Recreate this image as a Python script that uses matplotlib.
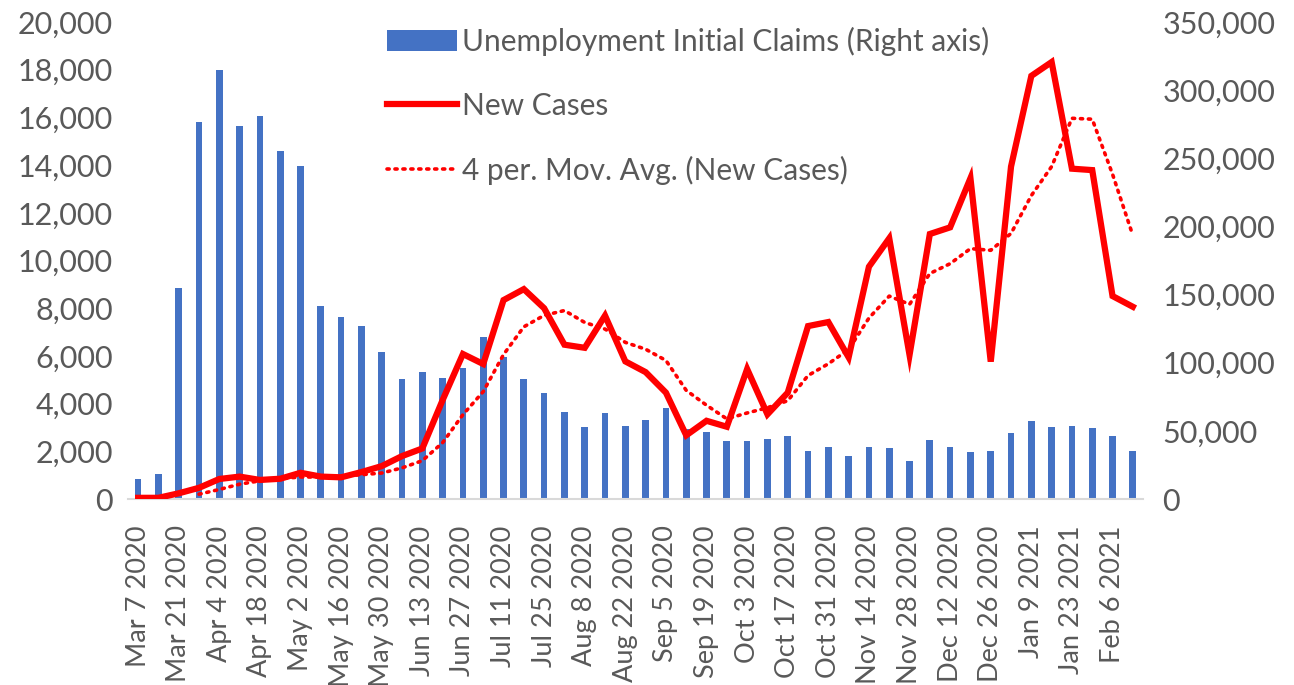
import numpy as np
import pandas as pd
import matplotlib
matplotlib.use("Agg")
import matplotlib.pyplot as plt
from matplotlib.ticker import FuncFormatter, MultipleLocator

plt.rcParams['font.family'] = ['Lato', 'DejaVu Sans']

# weekly data, Mar 7 2020 .. Feb 13 2021
tick_labels = ['Mar 7 2020', 'Mar 21 2020', 'Apr 4 2020', 'Apr 18 2020', 'May 2 2020',
               'May 16 2020', 'May 30 2020', 'Jun 13 2020', 'Jun 27 2020', 'Jul 11 2020',
               'Jul 25 2020', 'Aug 8 2020', 'Aug 22 2020', 'Sep 5 2020', 'Sep 19 2020',
               'Oct 3 2020', 'Oct 17 2020', 'Oct 31 2020', 'Nov 14 2020', 'Nov 28 2020',
               'Dec 12 2020', 'Dec 26 2020', 'Jan 9 2021', 'Jan 23 2021', 'Feb 6 2021']

claims = [14700, 18400, 154500, 276700, 314500, 273700, 281000, 255300, 244100, 141600,
          133900, 126900, 107800, 87900, 93100, 88700, 96100, 118800, 104100, 88000,
          77700, 63900, 52900, 63000, 53600, 57900, 66900, 51600, 49000, 42900,
          42400, 44300, 46200, 35500, 38000, 31500, 38300, 37100, 28200, 43100,
          38300, 34500, 35000, 48700, 57100, 53000, 53600, 52200, 46200, 35000]

new_cases = [50, 50, 240, 470, 840, 940, 800, 850, 1100, 940,
             910, 1130, 1380, 1800, 2120, 4150, 6080, 5660, 8340, 8800,
             8000, 6470, 6340, 7690, 5770, 5320, 4460, 2670, 3280, 3030,
             5450, 3550, 4460, 7250, 7420, 5940, 9740, 10930, 6040, 11110,
             11390, 13450, 5760, 13940, 17740, 18320, 13850, 13790, 8510, 8060]

# Excel-style 4 period moving average trendline
mov_avg = pd.Series(new_cases).rolling(4).mean()

txt = '#595959'
fs = 22
x = np.arange(len(claims))

fig = plt.figure(figsize=(12.94, 6.85), dpi=100)
ax = fig.add_axes([0.0989, 0.2715, 0.7844, 0.6964])  # bars, right axis
ax2 = ax.twinx()  # lines, left axis

bars = ax.bar(x, claims, width=0.33, color='#4472C4', label='Unemployment Initial Claims (Right axis)')
ax.set_ylim(0, 350000)
ax.yaxis.set_major_locator(MultipleLocator(50000))
ax.yaxis.tick_right()

l1, = ax2.plot(x, new_cases, color='#FF0000', lw=4.5, solid_joinstyle='miter', label='New Cases')
l2, = ax2.plot(x, mov_avg, color='#FF0000', lw=2.6, linestyle=(0, (0.6, 1.6)),
               dash_capstyle='round', label='4 per. Mov. Avg. (New Cases)')
ax2.set_ylim(0, 20000)
ax2.yaxis.set_major_locator(MultipleLocator(2000))
ax2.yaxis.tick_left()

fmt = FuncFormatter(lambda v, p: f'{int(v):,}')
for a in (ax, ax2):
    a.yaxis.set_major_formatter(fmt)
    for s in a.spines.values():
        s.set_visible(False)
ax.spines['bottom'].set_visible(True)
ax.spines['bottom'].set_color('#D9D9D9')
ax.spines['bottom'].set_linewidth(1.5)

ax.set_xlim(-0.5, len(claims) - 0.5)
ax.set_xticks(x[::2])
ax.set_xticklabels(tick_labels, rotation=90)
ax.tick_params(axis='x', length=0, pad=19, labelsize=19.5, labelcolor=txt)
ax.tick_params(axis='y', length=0, pad=14, labelsize=fs, labelcolor=txt)
ax2.tick_params(axis='y', length=0, pad=11, labelsize=fs, labelcolor=txt)

fig.legend(handles=[bars, l1, l2], loc='upper left', bbox_to_anchor=(387 / 1294, 1 - 27 / 685),
           frameon=False, fontsize=21.5, labelcolor=txt, borderpad=0, borderaxespad=0,
           handlelength=2.35, handletextpad=0.17, labelspacing=1.2)

fig.savefig('out.png', dpi=100)
